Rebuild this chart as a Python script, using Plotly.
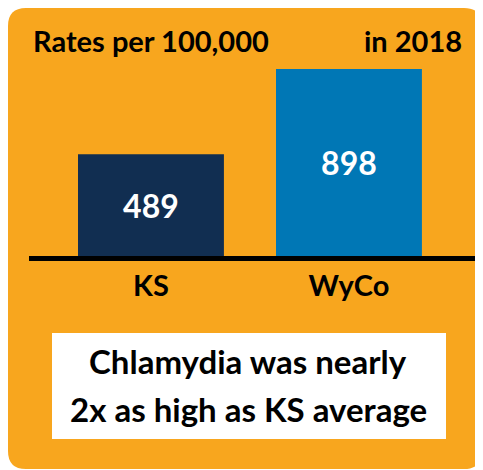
import plotly.graph_objects as go

# the page body has an 8px margin, so the figure is drawn 8px smaller
# and all reference pixel positions are shifted by that offset
OFF = 8
W, H = 483 - OFF, 470 - OFF

# data
categories = ["KS", "WyCo"]
rates = [489, 898]
bar_colors = ["#112E51", "#0077B5"]
title_left = "Rates per 100,000"
title_right = "in 2018"
note_lines = ["Chlamydia was nearly", "2x as high as KS average"]

ORANGE = "#F8A61E"
FONT = "Lato"


def px_x(x):
    return (x - OFF) / W


def px_y(y):
    return 1 - (y - OFF) / H


def rounded_rect(x0, y0, x1, y1, r):
    # pixel coords -> paper coords path with rounded corners
    rx, ry = r / W, r / H
    a, b, c, d = px_x(x0), px_y(y1), px_x(x1), px_y(y0)
    return (f"M {a + rx},{b} L {c - rx},{b} Q {c},{b} {c},{b + ry} "
            f"L {c},{d - ry} Q {c},{d} {c - rx},{d} "
            f"L {a + rx},{d} Q {a},{d} {a},{d - ry} "
            f"L {a},{b + ry} Q {a},{b} {a + rx},{b} Z")


fig = go.Figure()

fig.add_trace(go.Bar(
    x=categories,
    y=rates,
    marker=dict(color=bar_colors, line=dict(width=0)),
    width=0.737,
    text=[str(v) for v in rates],
    textposition="inside",
    insidetextanchor="middle",
    textfont=dict(family=FONT, size=32, color="white", weight="bold"),
    hoverinfo="skip",
))

# orange panel
fig.add_shape(type="path", xref="paper", yref="paper",
              path=rounded_rect(8, 8, 482, 469, 18),
              fillcolor=ORANGE, line=dict(width=0), layer="below")
# white note box
fig.add_shape(type="rect", xref="paper", yref="paper",
              x0=px_x(52), x1=px_x(446), y0=px_y(439), y1=px_y(333),
              fillcolor="white", line=dict(width=0), layer="below")

fig.add_annotation(text=title_left, xref="paper", yref="paper",
                   x=px_x(31), y=px_y(41), xanchor="left", yanchor="middle",
                   showarrow=False,
                   font=dict(family=FONT, size=29, color="black", weight="bold"))
fig.add_annotation(text=title_right, xref="paper", yref="paper",
                   x=px_x(464), y=px_y(41), xanchor="right", yanchor="middle",
                   showarrow=False,
                   font=dict(family=FONT, size=29, color="black", weight="bold"))
for i, line in enumerate(note_lines):
    fig.add_annotation(text=line, xref="paper", yref="paper",
                       x=px_x(248), y=px_y(361 + i * 48), xanchor="center",
                       yanchor="middle", showarrow=False,
                       font=dict(family=FONT, size=33, color="black", weight="bold"))

fig.update_layout(
    width=W, height=H,
    margin=dict(l=0, r=0, t=0, b=0),
    paper_bgcolor="white",
    plot_bgcolor="rgba(0,0,0,0)",
    showlegend=False,
    xaxis=dict(domain=[px_x(29), 1], range=[-0.616, 1.677],
               showline=True, linecolor="black", linewidth=5,
               ticks="", showgrid=False, zeroline=False,
               tickfont=dict(family=FONT, size=29, color="black", weight="bold")),
    yaxis=dict(domain=[px_y(256), px_y(58)], range=[0, 951],
               visible=False, showgrid=False, zeroline=False),
)

fig.write_html("out.html")
